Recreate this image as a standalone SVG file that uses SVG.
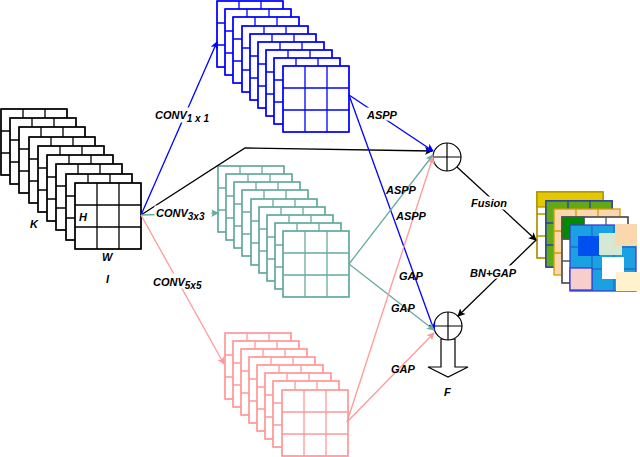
<svg xmlns="http://www.w3.org/2000/svg" xmlns:xlink="http://www.w3.org/1999/xlink" width="640" height="457" viewBox="0 0 640 457">
<style>
text{font-family:"Liberation Sans",Arial,sans-serif;font-style:italic;font-weight:bold;font-size:11px;fill:#000}
.lb{fill:#fff;stroke:#fff}
</style>
<defs>
<g id="sq"><rect x="0" y="0" width="66" height="66" fill="#fff"/><path d="M22 0V66M44 0V66M0 22H66M0 44H66" fill="none"/><rect x="0" y="0" width="66" height="66" fill="none"/></g>
<marker id="ak" markerWidth="8" markerHeight="8" refX="7" refY="4" orient="auto" markerUnits="userSpaceOnUse"><path d="M0 0L8 4L0 8L2 4z" fill="#000"/></marker>
<marker id="ab" markerWidth="8" markerHeight="8" refX="7" refY="4" orient="auto" markerUnits="userSpaceOnUse"><path d="M0 0L8 4L0 8L2 4z" fill="#0000ff"/></marker>
<marker id="at" markerWidth="8" markerHeight="8" refX="7" refY="4" orient="auto" markerUnits="userSpaceOnUse"><path d="M0 0L8 4L0 8L2 4z" fill="#67ab9f"/></marker>
<marker id="ap" markerWidth="8" markerHeight="8" refX="7" refY="4" orient="auto" markerUnits="userSpaceOnUse"><path d="M0 0L8 4L0 8L2 4z" fill="#ff9999"/></marker>
</defs>
<g id="input" stroke="#000" stroke-width="1.3">
<use href="#sq" x="1" y="109"/><use href="#sq" x="10" y="118"/><use href="#sq" x="19" y="127"/><use href="#sq" x="29" y="137"/><use href="#sq" x="38" y="146"/><use href="#sq" x="47" y="155"/><use href="#sq" x="56" y="164"/><use href="#sq" x="66" y="174"/><use href="#sq" x="75" y="183"/>
</g>
<g id="conv1" stroke="#0000ff" stroke-width="1.3">
<use href="#sq" x="217" y="1"/><use href="#sq" x="225" y="9"/><use href="#sq" x="233" y="17"/><use href="#sq" x="242" y="26"/><use href="#sq" x="250" y="34"/><use href="#sq" x="258" y="42"/><use href="#sq" x="266" y="50"/><use href="#sq" x="274" y="58"/><use href="#sq" x="283" y="66"/>
</g>
<g id="conv3" stroke="#67ab9f" stroke-width="1.3">
<use href="#sq" x="218" y="166"/><use href="#sq" x="226" y="174"/><use href="#sq" x="234" y="182"/><use href="#sq" x="242" y="190"/><use href="#sq" x="251" y="199"/><use href="#sq" x="259" y="207"/><use href="#sq" x="267" y="215"/><use href="#sq" x="275" y="223"/><use href="#sq" x="283" y="231"/>
</g>
<g id="conv5" stroke="#ff9999" stroke-width="1.3">
<use href="#sq" x="225" y="333"/><use href="#sq" x="233" y="341"/><use href="#sq" x="241" y="349"/><use href="#sq" x="249" y="357"/><use href="#sq" x="257" y="365"/><use href="#sq" x="265" y="373"/><use href="#sq" x="273" y="381"/><use href="#sq" x="282" y="390"/>
</g>
<g id="output" stroke-width="1.3">
<use href="#sq" x="537" y="192" stroke="#b09500" style="fill:#e3c800"/>
<rect x="537" y="192" width="66" height="15" fill="#e3c800" stroke="#b09500"/>
<use href="#sq" x="546" y="201" stroke="#2d3ea8"/>
<rect x="546" y="201" width="66" height="66" fill="#60a917" stroke="#2d3ea8"/>
<path d="M568 201V267M590 201V267M546 223H612M546 245H612" stroke="#2d3ea8" fill="none"/>
<rect x="554" y="209" width="66" height="66" fill="#fad7ac" stroke="#d79b00"/>
<path d="M576 209V275M598 209V275M554 231H620M554 253H620" stroke="#d79b00" fill="none"/>
<use href="#sq" x="562" y="217" stroke="#555"/>
<rect x="562" y="217" width="22" height="22" fill="#008a00" stroke="#555"/>
<rect x="570" y="225" width="66" height="66" fill="#1ba1e2" stroke="#3b3bd6"/>
<path d="M592 225V291M614 225V291M570 247H636M570 269H636" stroke="#1a6fc9" fill="none"/>
<rect x="578" y="236" width="22" height="20" fill="#0050ef"/>
<rect x="599" y="233" width="23" height="22" fill="#d5e8d4"/>
<rect x="615" y="224" width="22" height="22" fill="#fad7ac"/>
<rect x="602" y="257" width="22" height="22" fill="#fff"/>
<rect x="570" y="268" width="22" height="22" fill="#f8cecc" stroke="#3b3bd6"/>
<rect x="616" y="272" width="24" height="19" fill="#fff2cc"/>
</g>
<g id="plus-top" stroke="#000" stroke-width="1.2" fill="#fff">
<circle cx="447" cy="157" r="14"/><path d="M433 157H461M447 143V171" fill="none"/>
</g>
<g id="plus-bottom" stroke="#000" stroke-width="1.2" fill="#fff">
<path d="M441 339V367H428L448 377L468 367H455V339z"/>
<circle cx="448" cy="326" r="14"/><path d="M434 326H462M448 312V340" fill="none"/>
</g>
<g id="connectors" fill="none" stroke-width="1.3">
<path d="M141 215L217 42" stroke="#0000ff" marker-end="url(#ab)"/>
<path d="M141 215L245 148L432 151" stroke="#000" marker-end="url(#ak)"/>
<path d="M141 215L218 213" stroke="#67ab9f" marker-end="url(#at)"/>
<path d="M141 215L224 364" stroke="#ff9999" marker-end="url(#ap)"/>
<path d="M349 95L433 151" stroke="#0000ff" marker-end="url(#ab)"/>
<path d="M349 95L434 330" stroke="#0000ff" marker-end="url(#ab)"/>
<path d="M349 264L433 155" stroke="#67ab9f" marker-end="url(#at)"/>
<path d="M349 264L434 330" stroke="#67ab9f" marker-end="url(#at)"/>
<path d="M347 422L433 157" stroke="#ff9999" marker-end="url(#ap)"/>
<path d="M347 422L434 333" stroke="#ff9999" marker-end="url(#ap)"/>
<path d="M457 167L536 240" stroke="#000" marker-end="url(#ak)"/>
<path d="M536 240L458 316" stroke="#000" marker-end="url(#ak)"/>
</g>
<g id="labels">
<rect class="lb" x="153" y="108" width="64" height="14"/>
<text x="155" y="119">CONV<tspan font-size="10" dy="3">1 x 1</tspan></text>
<rect class="lb" x="155" y="206" width="56" height="14"/>
<text x="156" y="217">CONV<tspan font-size="10" dy="3">3x3</tspan></text>
<rect class="lb" x="152" y="274" width="58" height="14"/>
<text x="153" y="286">CONV<tspan font-size="10" dy="3">5x5</tspan></text>
<rect class="lb" x="367" y="108" width="32" height="12"/>
<text x="367" y="119">ASPP</text>
<text x="386" y="194">ASPP</text>
<text x="396" y="220">ASPP</text>
<text x="399" y="280">GAP</text>
<text x="391" y="312">GAP</text>
<text x="391" y="373">GAP</text>
<rect class="lb" x="470" y="197" width="40" height="12"/>
<text x="471" y="207">Fusion</text>
<rect class="lb" x="470" y="266" width="50" height="12"/>
<text x="470" y="277">BN+GAP</text>
<text x="30" y="228">K</text>
<text x="79" y="221">H</text>
<text x="102" y="261">W</text>
<text x="106" y="283">I</text>
<text x="444" y="396">F</text>
</g>
</svg>
